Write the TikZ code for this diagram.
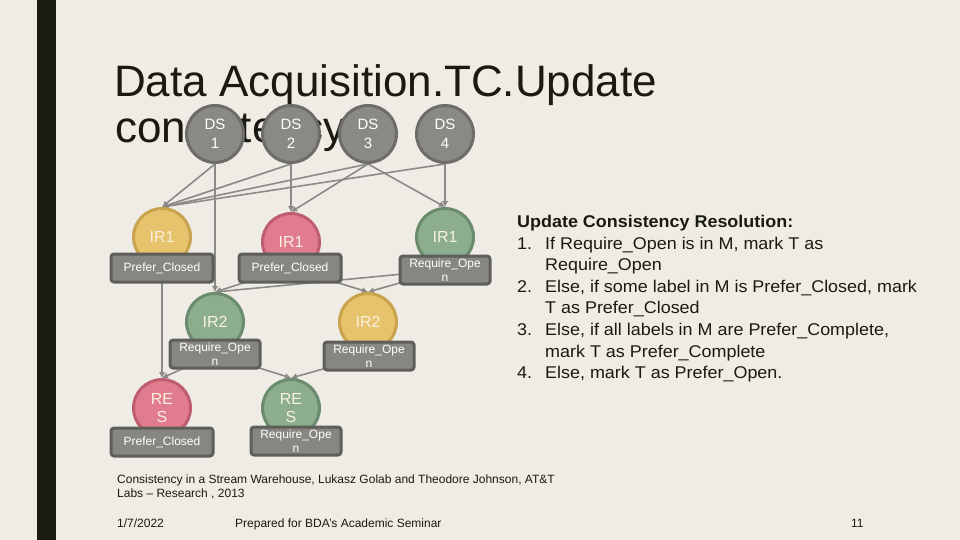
\documentclass[tikz,border=0pt]{standalone}
\usepackage{fontspec}
\setmainfont{Liberation Sans}
\newfontfamily\widesans[FakeStretch=1.055]{Liberation Sans}
\usetikzlibrary{arrows.meta}
\pgfdeclarelayer{back}
\pgfdeclarelayer{bg}
\pgfsetlayers{back,bg,main}
\definecolor{bgc}{HTML}{EEECE5}
\definecolor{barc}{HTML}{1B1A0E}
\definecolor{titlec}{HTML}{1A1A12}
\definecolor{dsfill}{HTML}{8A8985}
\definecolor{dsdraw}{HTML}{6D6C68}
\definecolor{yfill}{HTML}{E8C36E}
\definecolor{ydraw}{HTML}{C9A34E}
\definecolor{pfill}{HTML}{E07C8E}
\definecolor{pdraw}{HTML}{BF5D70}
\definecolor{gfill}{HTML}{8DAE8E}
\definecolor{gdraw}{HTML}{6B8B6E}
\definecolor{boxfill}{HTML}{878681}
\definecolor{boxdraw}{HTML}{5E5E5A}
\definecolor{edgec}{HTML}{8B8A86}
\definecolor{lbl}{HTML}{F7F1DE}
\tikzset{
  circ/.style={circle, line width=3pt, minimum size=57pt, inner sep=0pt, align=center,
    font=\fontsize{16}{18}\selectfont, text=lbl},
  dsnode/.style={circ, fill=dsfill, draw=dsdraw, font=\fontsize{15}{19}\selectfont, text=white},
  ycirc/.style={circ, fill=yfill, draw=ydraw},
  pcirc/.style={circ, fill=pfill, draw=pdraw},
  gcirc/.style={circ, fill=gfill, draw=gdraw},
  lblbox/.style={rectangle, rounded corners=3pt, line width=3pt, fill=boxfill, draw=boxdraw,
    text=white, font=\fontsize{12}{14}\selectfont, align=center, inner sep=0pt,
    minimum height=28pt},
  pcbox/.style={lblbox, minimum width=102pt},
  robox/.style={lblbox, minimum width=90pt},
  edge/.style={draw=edgec, line width=1.6pt, -{Latex[length=6pt,width=6.5pt]}},
  foot/.style={anchor=north west, inner sep=0pt, text=titlec, font=\fontsize{12}{14}\selectfont},
}
\begin{document}
\begin{tikzpicture}[x=1pt,y=-1pt]
\begin{pgfonlayer}{back}
\fill[bgc] (0,0) rectangle (960,540);
\fill[barc] (37,0) rectangle (56,540);
\end{pgfonlayer}
\useasboundingbox (0,0) rectangle (960,540);
% title
\node[anchor=base west, inner sep=0pt, text=titlec, font=\fontsize{44}{46}\selectfont] (title1) at (114,97) {Data Acquisition.TC.Update};
\node[anchor=base west, inner sep=0pt, text=titlec, font=\fontsize{44}{46}\selectfont] (title2) at (115,143) {consistency};
% data sources
\node[dsnode] (ds1) at (215,134) {DS\\1};
\node[dsnode] (ds2) at (291,134) {DS\\2};
\node[dsnode] (ds3) at (368,134) {DS\\3};
\node[dsnode] (ds4) at (445,134) {DS\\4};
% IR1 level
\node[ycirc] (ir1y) at (162,237) {IR1};
\node[pcbox] (b1y) at (162,268) {Prefer\_Closed};
\node[pcirc] (ir1p) at (291,242) {IR1};
\node[pcbox] (b1p) at (290,268) {Prefer\_Closed};
\node[gcirc] (ir1g) at (445,237) {IR1};
\node[robox] (b1g) at (445,270) {Require\_Ope\\n};
% IR2 level
\node[gcirc] (ir2g) at (215,322) {IR2};
\node[robox] (b2g) at (215,354) {Require\_Ope\\n};
\node[ycirc] (ir2y) at (368,322) {IR2};
\node[robox] (b2y) at (369,356) {Require\_Ope\\n};
% RES level
\node[pcirc] (resp) at (162,408) {RE\\S};
\node[pcbox] (b3p) at (162,442) {Prefer\_Closed};
\node[gcirc] (resg) at (291,408) {RE\\S};
\node[robox] (b3g) at (296,441) {Require\_Ope\\n};
% edges
\begin{pgfonlayer}{bg}
\draw[edge] (ds1.south) -- (ir1y.north);
\draw[edge] (ds1.south) -- (ir2g.north);
\draw[edge] (ds2.south) -- (ir1y.north);
\draw[edge] (ds2.south) -- (ir1p.north);
\draw[edge] (ds3.south) -- (ir1y.north);
\draw[edge] (ds3.south) -- (ir1p.north);
\draw[edge] (ds3.south) -- (ir1g.north);
\draw[edge] (ds4.south) -- (ir1y.north);
\draw[edge] (ds4.south) -- (ir1g.north);
\draw[edge] (b1y.center) -- (resp.north);
\draw[edge] (b1p.center) -- (ir2g.north);
\draw[edge] (b1p.center) -- (ir2y.north);
\draw[edge] (b1g.center) -- (ir2g.north);
\draw[edge] (b1g.center) -- (ir2y.north);
\draw[edge] (b2g.center) -- (resp.north);
\draw[edge] (b2g.center) -- (resg.north);
\draw[edge] (b2y.center) -- (resg.north);
\end{pgfonlayer}
% rules text
\node[anchor=north west, inner sep=0pt, align=left, text=titlec, font=\widesans\fontsize{17}{21.6}\selectfont] (rules) at (517,215) {%
{\bfseries Update Consistency Resolution:}\\
\makebox[28pt][l]{1.}If Require\_Open is in M, mark T as\\
\hspace*{28pt}Require\_Open\\
\makebox[28pt][l]{2.}Else, if some label in M is Prefer\_Closed, mark\\
\hspace*{28pt}T as Prefer\_Closed\\
\makebox[28pt][l]{3.}Else, if all labels in M are Prefer\_Complete,\\
\hspace*{28pt}mark T as Prefer\_Complete\\
\makebox[28pt][l]{4.}Else, mark T as Prefer\_Open.};
% footer
\node[foot, align=left] (cite) at (117,475) {Consistency in a Stream Warehouse, Lukasz Golab and Theodore Johnson, AT\&T\\Labs -- Research , 2013};
\node[foot] (date) at (117,519) {1/7/2022};
\node[foot] (prep) at (235,519) {Prepared for BDA's Academic Seminar};
\node[foot] (pnum) at (851,519) {11};
\end{tikzpicture}
\end{document}
